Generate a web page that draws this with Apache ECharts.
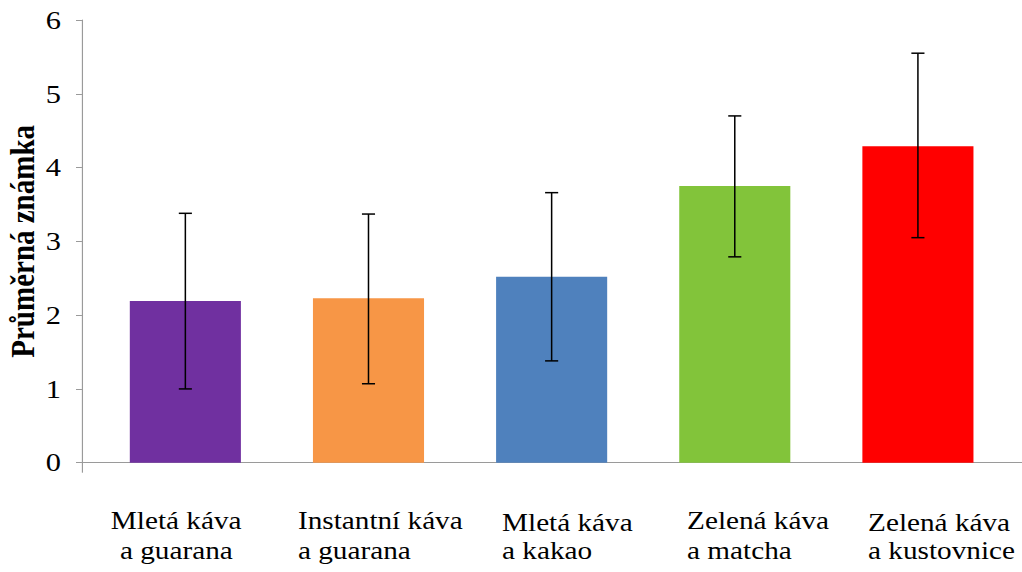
<!DOCTYPE html>
<html>
<head>
<meta charset="utf-8">
<script src="https://cdn.jsdelivr.net/npm/echarts@6/dist/echarts.min.js"></script>
<style>
html,body{margin:0;padding:0;background:#fff;overflow:hidden;width:1022px;height:572px}
#c{width:874px;height:572px;transform:scaleX(1.16934);transform-origin:0 0}
</style>
</head>
<body>
<div id="c"></div>
<script>
const categories = ['Mletá káva\na guarana', 'Instantní káva\na guarana', 'Mletá káva\na kakao', 'Zelená káva\na matcha', 'Zelená káva\na kustovnice'];
const means = [2.19, 2.23, 2.52, 3.75, 4.29];
const errLow = [1.00, 1.07, 1.38, 2.79, 3.05];
const errHigh = [3.38, 3.37, 3.66, 4.70, 5.55];
const barColors = ['#7030a0', '#f79646', '#4f81bd', '#82c43a', '#ff0000'];
const yTicks = [0, 1, 2, 3, 4, 5, 6];

const chart = echarts.init(document.getElementById('c'), null, {renderer: 'svg'});
const serif = '"Liberation Serif", "Times New Roman", serif';
const axisGrey = '#9a9a9a';
const yMin = yTicks[0], yMax = yTicks[yTicks.length - 1];

// label placement styles (left padding of line 1, line 2; extra top padding)
const labelStyle = [[6.3, 14.1, 0], [9.7, 9.7, 0], [27.6, 27.6, 5], [29.2, 29.2, 0], [27.4, 27.4, 5]];
const rich = {};
labelStyle.forEach((s, i) => {
  rich['a' + i] = {fontFamily: serif, fontSize: 25, color: '#000', lineHeight: 30, padding: [s[2], 0, 0, s[0]]};
  rich['b' + i] = {fontFamily: serif, fontSize: 25, color: '#000', lineHeight: 30, padding: [0, 0, 0, s[1]]};
});

chart.setOption({
  animation: false,
  grid: [
    {left: 80.2, right: 10.7, top: 20, bottom: 109.3, outerBoundsMode: 'none'},
    {left: 70.1, right: 0, top: 20, bottom: 109.3, outerBoundsMode: 'none'},
    {left: 10.2, right: 80.7, top: 20, bottom: 109.3, outerBoundsMode: 'none'}
  ],
  xAxis: [
    {
      type: 'category', gridIndex: 0, data: categories,
      axisLine: {show: false}, axisTick: {show: false}, axisLabel: {show: false}
    },
    {
      type: 'value', gridIndex: 1, min: 0, max: 1, interval: 1,
      axisLine: {show: true, lineStyle: {color: axisGrey, width: 1}},
      axisTick: {show: true, length: 10, lineStyle: {color: axisGrey}},
      axisLabel: {show: false}, splitLine: {show: false}
    },
    {
      type: 'category', gridIndex: 2, data: categories,
      axisLine: {show: false}, axisTick: {show: false},
      axisLabel: {
        interval: 0, margin: 43, align: 'left',
        fontFamily: serif, fontSize: 25, color: '#000', lineHeight: 30,
        formatter: function (value, index) {
          const lines = value.split('\n');
          return '{a' + index + '|' + lines[0] + '}\n{b' + index + '|' + lines[1] + '}';
        },
        rich: rich
      }
    }
  ],
  yAxis: [
    {type: 'value', gridIndex: 0, min: yMin, max: yMax, interval: 1, show: false},
    {
      type: 'value', gridIndex: 1, min: yMin, max: yMax, interval: 1,
      name: 'Průměrná známka',
      nameLocation: 'middle',
      nameMoveOverlap: false,
      nameGap: 36,
      nameTextStyle: {fontFamily: serif, fontSize: 29, fontWeight: 'bold', color: '#000'},
      axisLine: {show: true, lineStyle: {color: axisGrey, width: 1}},
      axisTick: {show: true, length: 5.1, lineStyle: {color: axisGrey}},
      splitLine: {show: false},
      axisLabel: {margin: 18, fontFamily: serif, fontSize: 26, color: '#000'}
    },
    {type: 'value', gridIndex: 2, min: yMin, max: yMax, interval: 1, show: false}
  ],
  series: [
    {
      type: 'bar',
      xAxisIndex: 0, yAxisIndex: 0,
      data: means.map((v, i) => ({value: v, itemStyle: {color: barColors[i]}})),
      barWidth: 95
    },
    {
      type: 'custom',
      xAxisIndex: 0, yAxisIndex: 0,
      data: means.map((v, i) => [i, errLow[i], errHigh[i]]),
      z: 10,
      renderItem: function (params, api) {
        const lo = api.coord([api.value(0), api.value(1)]);
        const hi = api.coord([api.value(0), api.value(2)]);
        const hw = 5.6;
        const vStyle = {stroke: '#000', lineWidth: 1.3};
        const cStyle = {stroke: '#000', lineWidth: 1.5};
        return {
          type: 'group',
          children: [
            {type: 'line', shape: {x1: hi[0], y1: hi[1], x2: lo[0], y2: lo[1]}, style: vStyle},
            {type: 'line', shape: {x1: hi[0] - hw, y1: hi[1], x2: hi[0] + hw, y2: hi[1]}, style: cStyle},
            {type: 'line', shape: {x1: lo[0] - hw, y1: lo[1], x2: lo[0] + hw, y2: lo[1]}, style: cStyle}
          ]
        };
      }
    }
  ]
});
</script>
</body>
</html>
